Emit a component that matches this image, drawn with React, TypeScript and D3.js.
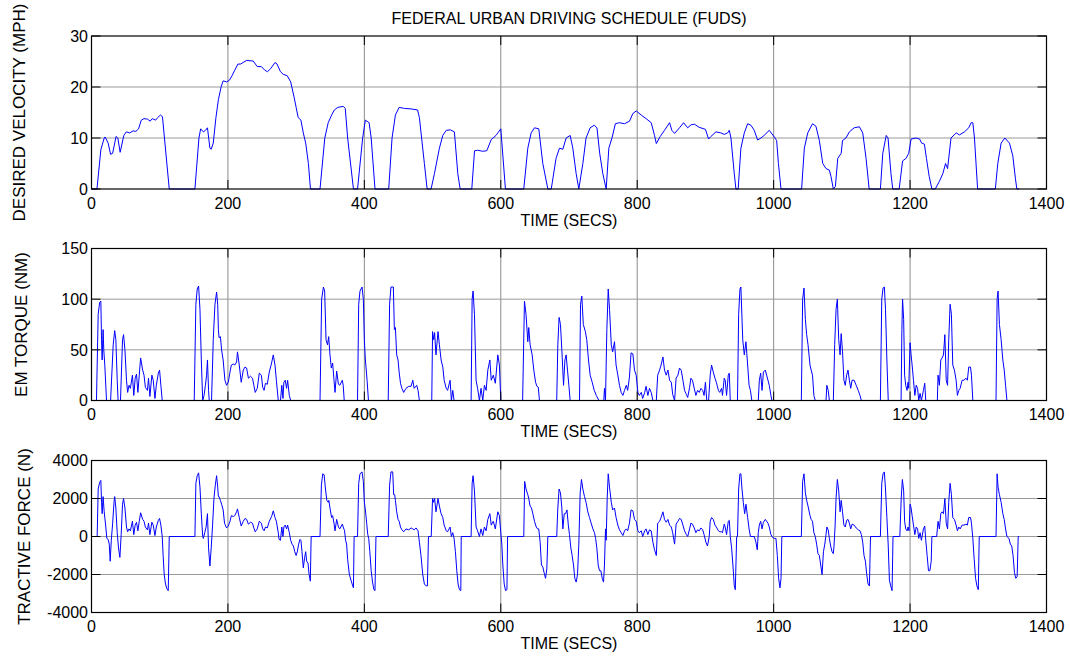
import React from "react";
import * as d3 from "d3";

const xTicks = [0, 200, 400, 600, 800, 1000, 1200, 1400];
const velocityTicks = [0, 10, 20, 30];
const torqueTicks = [0, 50, 100, 150];
const forceTicks = [-4000, -2000, 0, 2000, 4000];

const titleText = "FEDERAL URBAN DRIVING SCHEDULE (FUDS)";
const xLabelText = "TIME (SECS)";

// [time s, velocity mph]
const velocity: [number, number][] = [
  [0,0],[8,0],[13.7,7.7],[18.6,10],[20,10.2],[24.4,9],[28,6.8],[31,7],[36,10.3],[38.6,10],[42,7.2],[47.4,10.5],[51,11.2],[56,11],[61,11.4],[65,11.3],[69,11.8],[73,13.5],[77,13.8],[82,13.7],[86,13.3],[89,13.8],[94,13.5],[97,14],[101,14.5],[104,14.2],[114,0],
  [151.6,0],[157.5,10],[160,11.8],[164,11.2],[167,11.5],[170,12],[173.6,8],[175.5,7.8],[178.5,9],[182.4,14],[186,17.5],[190,20],[193,21.2],[198,21],[202,21.3],[206,22.2],[210,23.3],[214.7,24.5],[218.6,24.5],[227,25.2],[237,25.1],[243,24],[249,24],[254,23.3],[258,23],[262.6,23.6],[269,24.8],[272,24.5],[277,23],[281,22.5],[287,22.2],[292,21],[297,18],[300,16],[303,14],[307,13.5],[310.5,11],[314,9],[318,5],[321,0],
  [335,0],[342,10],[347,13],[352,14.5],[356,15.5],[361,16],[369,16.2],[372,15.8],[375.5,10],[384,0],[390,0],[397.5,10],[401.5,13.5],[407,13],[410,10],[415.6,0],
  [435.7,0],[440.6,10],[445.5,14.5],[451,16],[458.7,15.8],[468.5,15.7],[478,15.5],[480.7,14],[488,5],[492,0],[497.8,0],[502.7,3],[510,8],[515,10.5],[520,11.5],[526,11.6],[532,11.2],[537,3],[540.4,0],
  [557.5,0],[561.5,7.5],[566,7.6],[573.6,7.4],[579.5,7.5],[586,9.7],[593,10.5],[600,11.8],[606.8,0],
  [633.7,0],[639.6,8],[644.5,11],[649.4,12],[655.7,11.8],[661.6,5],[669,0],[674,0],[681,6],[686,8],[691,7.8],[695.8,10],[701.7,10.5],[705.6,8],[710.5,3],[714.4,0],[720.3,5],[725,10],[731,12],[737,12.5],[741,12],[745,7],[749.6,3],[754.5,0],
  [758.4,8],[763,10],[768,12.8],[774,13],[781.4,12.8],[788.8,13.3],[793.6,14.8],[798.5,15.3],[805.9,14.5],[813,13.8],[820.5,13],[825.4,10.5],[828,8.9],[833.7,10.3],[840,11.5],[847.4,13],[850.8,11.5],[854.8,10.9],[862,12],[868,13],[874,12],[879,12.6],[884,12.7],[890.7,12.1],[900,11.7],[904.6,9.8],[908,10.3],[915.4,11.2],[922.7,11],[927.6,10.7],[932.5,11],[935,11.5],[937.4,10],[942.3,3],[944.7,0],
  [948,0],[952,8],[957,11],[961.9,12.8],[966.7,12.5],[971.6,11.5],[976.5,9.6],[981.4,10],[986,10.5],[993.6,11.5],[1001,10.2],[1004.4,9.5],[1007,5],[1010.8,0],
  [1041,0],[1045,8],[1050,11],[1057,12.8],[1062,12.3],[1067,9.5],[1072,5],[1076.8,4],[1081.7,3.7],[1084,2.5],[1087.5,0],[1090.5,0.5],[1094,6],[1099,7],[1101,9.5],[1106,10],[1111,11.2],[1118,12],[1125.7,12.2],[1130.6,11],[1135.5,6],[1140,0],
  [1156.5,0],[1160,7],[1165,10.5],[1167.7,10],[1172,3],[1174.6,0],[1184,0],[1189,5.5],[1194,6],[1198,7],[1201.5,9.8],[1209,10],[1214,9.8],[1217,9],[1221,8.8],[1224,6],[1228,2.5],[1232,0],[1237,0],[1243,1.5],[1248,3],[1252,5],[1255,4],[1260,10],[1267.7,11],[1272.4,10.6],[1279.7,11.2],[1286,12],[1289.5,13],[1292,13],[1294.4,10],[1299,0],
  [1325,0],[1328.6,5],[1333.5,9],[1339,10],[1345.7,9],[1350.6,6.5],[1354.5,2],[1356.5,0],[1360,0],
];

// [time s, torque Nm]
const torque: [number, number][] = [
  [0,0],[7.3,0],[9.8,85],[12,97],[13.7,98],[14.7,60],[15.6,40],[17,70],[18,50],[19.5,35],[22,0],
  [28,0],[31.8,55],[34,69],[35.7,60],[37.7,20],[39,0],[42.5,0],[45.5,60],[47,65],[49,50],[51.3,20],[53,8],[55,15],[57,12],[60,25],[62,5],[64,22],[66,26],[68,8],[70,25],[72,42],[75,30],[77,25],[79,13],[82,10],[83.6,22],[85.6,4],[88.5,25],[90.5,20],[93,2],[95,15],[98,27],[99.8,30],[101.7,15],[103.7,0],
  [150.6,0],[153,95],[155,110],[157,113],[159,90],[161,40],[163,0],[165,5],[167,15],[168.7,25],[170,40],[171.6,10],[172.6,0],[176,0],[178.5,60],[181,95],[183.4,107],[185,95],[186,70],[187,62],[189,63],[190.7,50],[193,40],[195.6,20],[198,15],[200.5,18],[203,28],[205,35],[207.8,36],[210,35],[212.7,38],[214,48],[216.6,35],[219.5,18],[222.5,30],[225,33],[227.4,32],[230,22],[233,24],[236,22],[238,15],[240,8],[243,12],[246,27],[249,25],[251,13],[253,10],[255,17],[257.7,16],[260.6,28],[264,37],[266.5,45],[269,35],[271,20],[273.8,0],[277,0],[279,15],[280.7,2],[282,18],[284,20],[286,12],[287.5,20],[290,5],[292,0],
  [335,0],[337.4,100],[340,112],[341.8,108],[343.8,60],[346,55],[347.7,63],[349.6,45],[351.6,32],[353.5,37],[355.5,20],[357,8],[359.4,29],[362,16],[364,15],[367.7,20],[369,15],[370.5,0],
  [390,0],[391.7,95],[393.6,108],[396.6,112],[398.5,100],[400,60],[401.5,40],[404,20],[406,0],
  [435,0],[437,95],[439,112],[442.5,112],[444,70],[445.5,72],[447.4,45],[449.4,40],[451,28],[453,17],[455,12],[457.7,8],[461,12],[465,14],[468.5,14],[471,20],[473,12],[476.8,15],[478.7,10],[480.7,0],
  [498.8,0],[500,68],[501.7,60],[503,67],[505,45],[508,68],[510,55],[512.5,40],[515,33],[517,20],[520,12],[522,10],[525.7,20],[527.6,0],[529.6,10],[531.5,0],
  [556.5,0],[558,100],[559.4,108],[561.4,85],[563.8,20],[566,12],[568.7,0],[571,12],[573.6,0],[576,15],[578.5,10],[581,30],[584,40],[586,20],[589,25],[592,17],[595.6,45],[598,35],[600,0],
  [632,0],[634.7,98],[637,85],[639.6,58],[641,72],[643,55],[646,45],[648.4,30],[651,18],[653,14],[655,13],[656.7,0],
  [682,0],[683.6,55],[685.5,82],[687.5,75],[689.5,50],[692,15],[694,40],[695.8,45],[697.8,30],[699.8,15],[701.7,0],
  [715.4,0],[716.9,95],[718.8,103],[721,75],[724,68],[726,60],[728.6,40],[731,25],[734,18],[737,10],[740,5],[743.8,0],
  [751,0],[752,12],[753.5,0],[755.5,70],[757.5,110],[759.4,90],[762,55],[764,48],[766.7,58],[769,35],[771.6,25],[774,15],[776.5,8],[779,5],[781.4,10],[784,15],[786,10],[788.6,23],[791,47],[793.6,46],[796,30],[798.5,25],[801,8],[803,5],[806,8],[808,2],[811,8],[813,14],[815.6,5],[818,12],[820.5,8],[823,0],[828,0],[830,25],[832.8,30],[835,35],[837.7,43],[840,30],[842.5,25],[845,30],[847.4,20],[850,18],[852,6],[854.8,0],[857,22],[859.7,25],[862,32],[864.5,30],[867,20],[869.4,10],[872,6],[874,3],[876.8,13],[878.7,22],[881,20],[883.6,12],[886,5],[888.5,10],[891,8],[893.4,12],[896,10],[898,5],[900,18],[902,0],[904.6,0],[907,25],[909,35],[911.5,28],[914,22],[916,18],[919,10],[921,8],[923.7,12],[925,5],[927.6,22],[929,20],[931,5],[933.5,25],[935,27],[936.4,0],
  [947,0],[948.7,85],[950.6,110],[952,112],[954.7,60],[957,45],[959.4,58],[961.9,35],[964,15],[966,10],[968,0],[977.5,0],[979,20],[981,27],[983,10],[985,28],[987.8,30],[989.7,25],[991.7,20],[993.6,15],[996,5],[997.5,0],
  [1040.6,0],[1042.5,100],[1044.5,111],[1046.5,80],[1048.4,65],[1050.4,55],[1053.3,35],[1055,30],[1057,25],[1059,5],[1061,0],[1076.8,0],[1078,15],[1080,10],[1081.7,0],[1087.5,0],[1089.5,55],[1091.5,90],[1093.4,100],[1095.4,60],[1097.4,45],[1099,66],[1101,48],[1103,20],[1105,15],[1107,25],[1109,30],[1111,20],[1113,12],[1115,20],[1118,20],[1121,15],[1124,10],[1126.6,5],[1128.6,0],
  [1156.5,0],[1158.5,100],[1160.4,111],[1162.3,112],[1164,90],[1166,40],[1168,0],[1186.8,0],[1188,70],[1189,100],[1190.6,80],[1192,25],[1193.6,15],[1195.6,10],[1197,18],[1198,12],[1200,57],[1201.5,45],[1203,35],[1205,20],[1207,5],[1209,15],[1211,12],[1212.7,0],[1214.7,7],[1216.6,0],[1219.6,10],[1221.5,17],[1223,0],
  [1240,0],[1241,25],[1243,15],[1245,40],[1247,42],[1249,45],[1251,65],[1253,20],[1255,15],[1256.7,60],[1258.7,95],[1260.6,85],[1262.6,35],[1265,30],[1267.5,20],[1269.4,5],[1271.4,10],[1273.4,12],[1276.3,20],[1279,20],[1282,22],[1284,20],[1286,33],[1288.6,33],[1290,25],[1292,0],
  [1326,0],[1327.6,100],[1329,108],[1331,75],[1333.5,60],[1336,40],[1338,30],[1340,15],[1342,0],[1359,0],
];

// [time s, tractive force N]
const force: [number, number][] = [
  [0,0],[8.3,0],[9.8,2500],[12,2850],[13.7,2950],[14.7,1800],[15.6,1200],[17,2100],[18.6,1300],[21,500],[22.5,-100],[24.4,-150],[26,-400],[27.4,-1300],[29,-200],[31,700],[33,1800],[34,2100],[35.7,1500],[37.7,200],[39.6,-600],[41.6,-1100],[43.5,100],[45.5,1700],[47,2000],[49,1500],[51.3,500],[53,250],[55,400],[57,300],[60,800],[62,100],[64,600],[66,750],[68,300],[70,800],[72,1250],[75,900],[77,800],[79,500],[82,350],[83.6,700],[85.6,100],[88.5,750],[90.5,600],[93,50],[95,500],[98,850],[99.8,950],[101.7,600],[103.7,0],[105,-1000],[106.6,-2000],[108.5,-2500],[110.5,-2750],[112.5,-2850],[114,0],
  [151.6,0],[153,2800],[155,3200],[157,3350],[159,2600],[161,1200],[163,0],[164,-100],[166,200],[168,500],[170,1200],[171.6,-600],[173.6,-1550],[175.5,-600],[177.5,600],[179.5,2000],[181.5,2700],[183.4,3200],[185,2600],[186,2100],[187,2100],[189,1900],[190.7,1700],[193,1400],[195,700],[198,450],[200.5,550],[203,800],[205,1100],[207.8,1050],[210,1100],[212.7,1300],[214,1450],[216.6,1000],[219.5,550],[222.5,800],[225,950],[227.4,900],[230,650],[233,750],[236,700],[238,450],[240,250],[243,400],[246,800],[249,700],[251,400],[253,300],[255,500],[257.7,450],[260.6,800],[264,1050],[266.5,1350],[269,1000],[271,800],[273.8,200],[275,-150],[277,-200],[279,500],[280.7,0],[282,500],[284,600],[286,400],[287.5,600],[290,200],[292,-200],[294,-400],[296,-500],[298,-800],[300,-1000],[301.7,-800],[303.7,-400],[305.6,-150],[307,-200],[308.6,-800],[310.5,-1650],[312.5,-1100],[314,-800],[315.4,-1300],[317.4,-1400],[319,-2000],[320.8,-2350],[322,0],
  [335,0],[337,2700],[339,3300],[341,3250],[343,2500],[345,1900],[347,1800],[348,1900],[350,1400],[352,1000],[353.5,1100],[355.5,700],[357,300],[359.4,900],[362,500],[364,400],[367.7,650],[369,500],[371,300],[372.5,-200],[374,-400],[375.5,-1200],[378,-2000],[380.4,-2300],[383,-2600],[384,-2700],[385,0],
  [390,0],[391.7,2800],[393.6,3300],[396.6,3400],[398.5,2900],[400,1800],[401.5,1400],[403.4,700],[405,100],[406.4,-100],[408,-800],[410,-1800],[412,-2400],[414,-2800],[415.6,-2850],[417,0],
  [435,0],[437,2700],[439,3400],[441.6,3400],[443,2200],[444.5,2200],[445.5,1900],[447.4,1300],[449.4,900],[451,800],[453,500],[455,350],[457.7,250],[461,400],[465,350],[468.5,450],[471,400],[473,350],[475.8,450],[478.7,300],[480.7,-300],[483,-1000],[485.6,-2000],[488,-2500],[490.5,-2600],[492.4,-2600],[494,0],
  [498,0],[500,2000],[501.7,1800],[503,2000],[505,1300],[508,2000],[510,1600],[512.5,1200],[515,1000],[517,600],[520,300],[522,250],[525.7,500],[527.6,0],[529.6,200],[531.5,-100],[533.5,-800],[535.5,-1800],[537.4,-2500],[539.4,-2800],[541.4,-2850],[542,0],
  [556.5,0],[558,2800],[559.4,3200],[561.4,2400],[563.8,500],[566,300],[568.7,0],[571,400],[573.6,50],[576,500],[578.5,300],[581,900],[584,1200],[586,600],[589,800],[592,400],[595.6,1300],[598,1100],[600,200],[601.5,-400],[603,-1500],[605,-2500],[607,-2850],[609,-2800],[610,0],
  [633.7,0],[635,2900],[637,2500],[639.6,2200],[641,2000],[643,1600],[645,1500],[647,1200],[649.4,800],[652,500],[654,400],[655.7,400],[657.7,-300],[659.6,-1500],[661.6,-1600],[663.5,-1900],[665.6,-2200],[667.5,-1700],[669,0],
  [682,0],[683.6,1500],[685.5,2500],[687.5,2300],[689.5,1500],[691,400],[693,1200],[695,1200],[697,1400],[699,600],[700.7,100],[702.7,-600],[704.6,-1000],[706.6,-1500],[708.5,-2200],[710.5,-2400],[712.5,-2000],[714.4,-400],[716.4,2300],[718.3,3000],[720.3,2500],[722.7,2100],[725,1800],[727.6,1300],[730,1000],[732.5,700],[735,400],[737.4,200],[739,-100],[740.8,-600],[742.8,-1500],[744.7,-1800],[746.7,-1800],[748.7,-2200],[750.6,-2400],[752,-1500],[753.5,400],[754.5,-200],[756,2000],[757.5,3300],[759.4,2600],[762,1800],[764,1400],[766.7,1500],[769,1000],[771.6,600],[774,350],[776.5,200],[779,50],[781.4,300],[784,400],[786,300],[788.6,700],[791,1400],[793.6,1350],[796,900],[798.5,800],[801,300],[803,200],[806,300],[808,0],[811,300],[813,400],[815.6,100],[818,350],[820.5,300],[823,-300],[825.4,-700],[828,-1000],[830,700],[832.8,800],[835,1000],[837.7,1300],[840,900],[842.5,750],[845,900],[847.4,600],[850,500],[852,200],[854.8,-400],[857,650],[859.7,800],[862,950],[864.5,900],[867,600],[869.4,300],[872,100],[874,0],[876.8,400],[878.7,700],[881,650],[883.6,450],[886,200],[888.5,350],[891,300],[893.4,450],[896,350],[898,100],[900.7,-300],[903,-500],[905.6,0],[907,800],[909,1000],[911.5,900],[914,600],[916,500],[919,300],[921,250],[923.7,250],[925,200],[927.6,650],[929,500],[931,100],[933.5,800],[935,850],[936.4,0],[938.4,-600],[940.3,-1500],[942.3,-2600],[943.8,-2800],[945.8,0],
  [947,0],[948.7,2500],[950.6,3300],[952,3300],[953.6,2500],[955.5,1800],[957.5,1200],[959.4,1700],[961.9,1000],[964,400],[966,0],[971.6,0],[974,-300],[976,-700],[977.5,200],[979,600],[981,800],[983,400],[985,750],[987.8,900],[989.7,800],[991.7,700],[993.6,500],[996,100],[998.5,-50],[1001,-100],[1003.4,-100],[1005.4,-1000],[1007.3,-2200],[1009.3,-2700],[1010.8,-2200],[1012,0],
  [1040.6,0],[1042.5,2900],[1044.5,3300],[1046.5,2300],[1048.4,1900],[1050.4,1600],[1053.3,1100],[1055,900],[1057,800],[1059,200],[1061,0],[1063,-400],[1065,-900],[1067,-1000],[1069,-1500],[1071,-2000],[1073,-800],[1075,-400],[1076.8,100],[1078,500],[1080,350],[1081.7,-100],[1083.6,-500],[1085.6,-800],[1087.5,-900],[1088.5,-500],[1090,500],[1091.5,2000],[1093.4,3000],[1095.4,2400],[1097.4,1300],[1099,1900],[1101,1300],[1103,600],[1105,500],[1107,850],[1109,900],[1111,700],[1113,400],[1115,650],[1118,600],[1121,450],[1124,350],[1126.6,300],[1128.6,100],[1130.6,-300],[1132.5,-1000],[1134.5,-1300],[1136.5,-2000],[1138.4,-2500],[1140.4,-2600],[1142,0],
  [1156.5,0],[1158.5,2800],[1160.4,3300],[1162.3,3400],[1164,2500],[1166,1000],[1168,-500],[1169.7,-2300],[1171.6,-2600],[1173.6,-2850],[1175,0],
  [1185,0],[1187,2000],[1188.7,3000],[1190.6,2400],[1192,800],[1193.6,400],[1195.6,300],[1197,500],[1198.5,300],[1200,1700],[1201.5,1500],[1203,1100],[1205,600],[1207,100],[1209,500],[1211,400],[1212.7,-100],[1214.7,200],[1216.6,-200],[1219.6,400],[1221.5,550],[1223,-200],[1225,-1000],[1227,-1800],[1229,-1800],[1231,-1300],[1232,0],
  [1239,0],[1241,800],[1243,400],[1245,1200],[1247,1300],[1249,1200],[1251,2000],[1253,700],[1255,400],[1256.7,1800],[1258.7,2800],[1260.6,2200],[1262.6,1000],[1265,900],[1267.5,600],[1269.4,300],[1271.4,500],[1273.4,400],[1276.3,600],[1279,600],[1282,650],[1284,600],[1286,1000],[1288.6,1000],[1290,700],[1292,-100],[1294,-1200],[1296,-2200],[1298,-2600],[1300,-2800],[1301.4,0],
  [1326,0],[1327.6,3300],[1329,2600],[1331,2200],[1333.5,1800],[1336,1200],[1338,900],[1340,400],[1342,0],[1345,-100],[1347,-400],[1349,-500],[1351,-1000],[1353,-1900],[1355,-2200],[1357,-2100],[1358.5,0],[1360,0],
];

const W = 1070;
const H = 656;
const LEFT = 91.5;
const RIGHT = 1046.5;
const FONT = "'Liberation Sans', Arial, Helvetica, sans-serif";
const TICK = 9;

type Panel = {
  data: [number, number][];
  ticks: number[];
  label: string;
  top: number;
  bottom: number;
  labelX: number;
};

const panels: Panel[] = [
  { data: velocity, ticks: velocityTicks, label: "DESIRED VELOCITY (MPH)", top: 36, bottom: 189, labelX: 25 },
  { data: torque, ticks: torqueTicks, label: "EM TORQUE (NM)", top: 248.5, bottom: 400.5, labelX: 26.5 },
  { data: force, ticks: forceTicks, label: "TRACTIVE FORCE (N)", top: 460.5, bottom: 612.5, labelX: 30 },
];

function PanelView({ p }: { p: Panel }) {
  const x = d3.scaleLinear().domain([0, 1400]).range([LEFT, RIGHT]);
  const y = d3
    .scaleLinear()
    .domain([p.ticks[0], p.ticks[p.ticks.length - 1]])
    .range([p.bottom, p.top]);
  const line = d3
    .line<[number, number]>()
    .x((d) => x(d[0]))
    .y((d) => y(d[1]));
  const innerX = xTicks.slice(1, -1);
  const innerY = p.ticks.slice(1, -1);
  const cy = (p.top + p.bottom) / 2;
  return (
    <g>
      <rect x={LEFT} y={p.top} width={RIGHT - LEFT} height={p.bottom - p.top} fill="#fff" />
      {innerX.map((t) => (
        <line key={"gx" + t} x1={x(t)} x2={x(t)} y1={p.top} y2={p.bottom} stroke="#8c8c8c" strokeWidth={1} />
      ))}
      {innerY.map((t) => (
        <line key={"gy" + t} x1={LEFT} x2={RIGHT} y1={y(t)} y2={y(t)} stroke="#9a9a9a" strokeWidth={1} />
      ))}
      <path d={line(p.data) || ""} fill="none" stroke="#0000ff" strokeWidth={1} strokeLinejoin="round" />
      <rect x={LEFT} y={p.top} width={RIGHT - LEFT} height={p.bottom - p.top} fill="none" stroke="#000" strokeWidth={1.2} />
      {xTicks.map((t) => (
        <g key={"tx" + t}>
          <line x1={x(t)} x2={x(t)} y1={p.bottom} y2={p.bottom - TICK} stroke="#000" />
          <line x1={x(t)} x2={x(t)} y1={p.top} y2={p.top + TICK} stroke="#000" />
          <text x={x(t)} y={p.bottom + 19.5} textAnchor="middle" fontSize={16} fontFamily={FONT} fill="#000">
            {t}
          </text>
        </g>
      ))}
      {p.ticks.map((t) => (
        <g key={"ty" + t}>
          <line x1={LEFT} x2={LEFT + TICK} y1={y(t)} y2={y(t)} stroke="#000" />
          <line x1={RIGHT} x2={RIGHT - TICK} y1={y(t)} y2={y(t)} stroke="#000" />
          <text x={LEFT - 3.5} y={y(t) + 5.8} textAnchor="end" fontSize={16} fontFamily={FONT} fill="#000">
            {t}
          </text>
        </g>
      ))}
      <text
        transform={`translate(${p.labelX},${cy}) rotate(-90)`}
        textAnchor="middle"
        fontSize={17}
        fontFamily={FONT}
        fill="#000"
      >
        {p.label}
      </text>
      <text x={(LEFT + RIGHT) / 2} y={p.bottom + 36.5} textAnchor="middle" fontSize={16} fontFamily={FONT} fill="#000">
        {xLabelText}
      </text>
    </g>
  );
}

export default function App() {
  return (
    <svg
      width={W}
      height={H}
      viewBox={`0 0 ${W} ${H}`}
      style={{ position: "absolute", left: 0, top: 0, background: "#fff" }}
    >
      <rect width={W} height={H} fill="#fff" />
      <text x={(LEFT + RIGHT) / 2} y={24} textAnchor="middle" fontSize={16} fontFamily={FONT} fill="#000">
        {titleText}
      </text>
      {panels.map((p, i) => (
        <PanelView key={i} p={p} />
      ))}
    </svg>
  );
}
